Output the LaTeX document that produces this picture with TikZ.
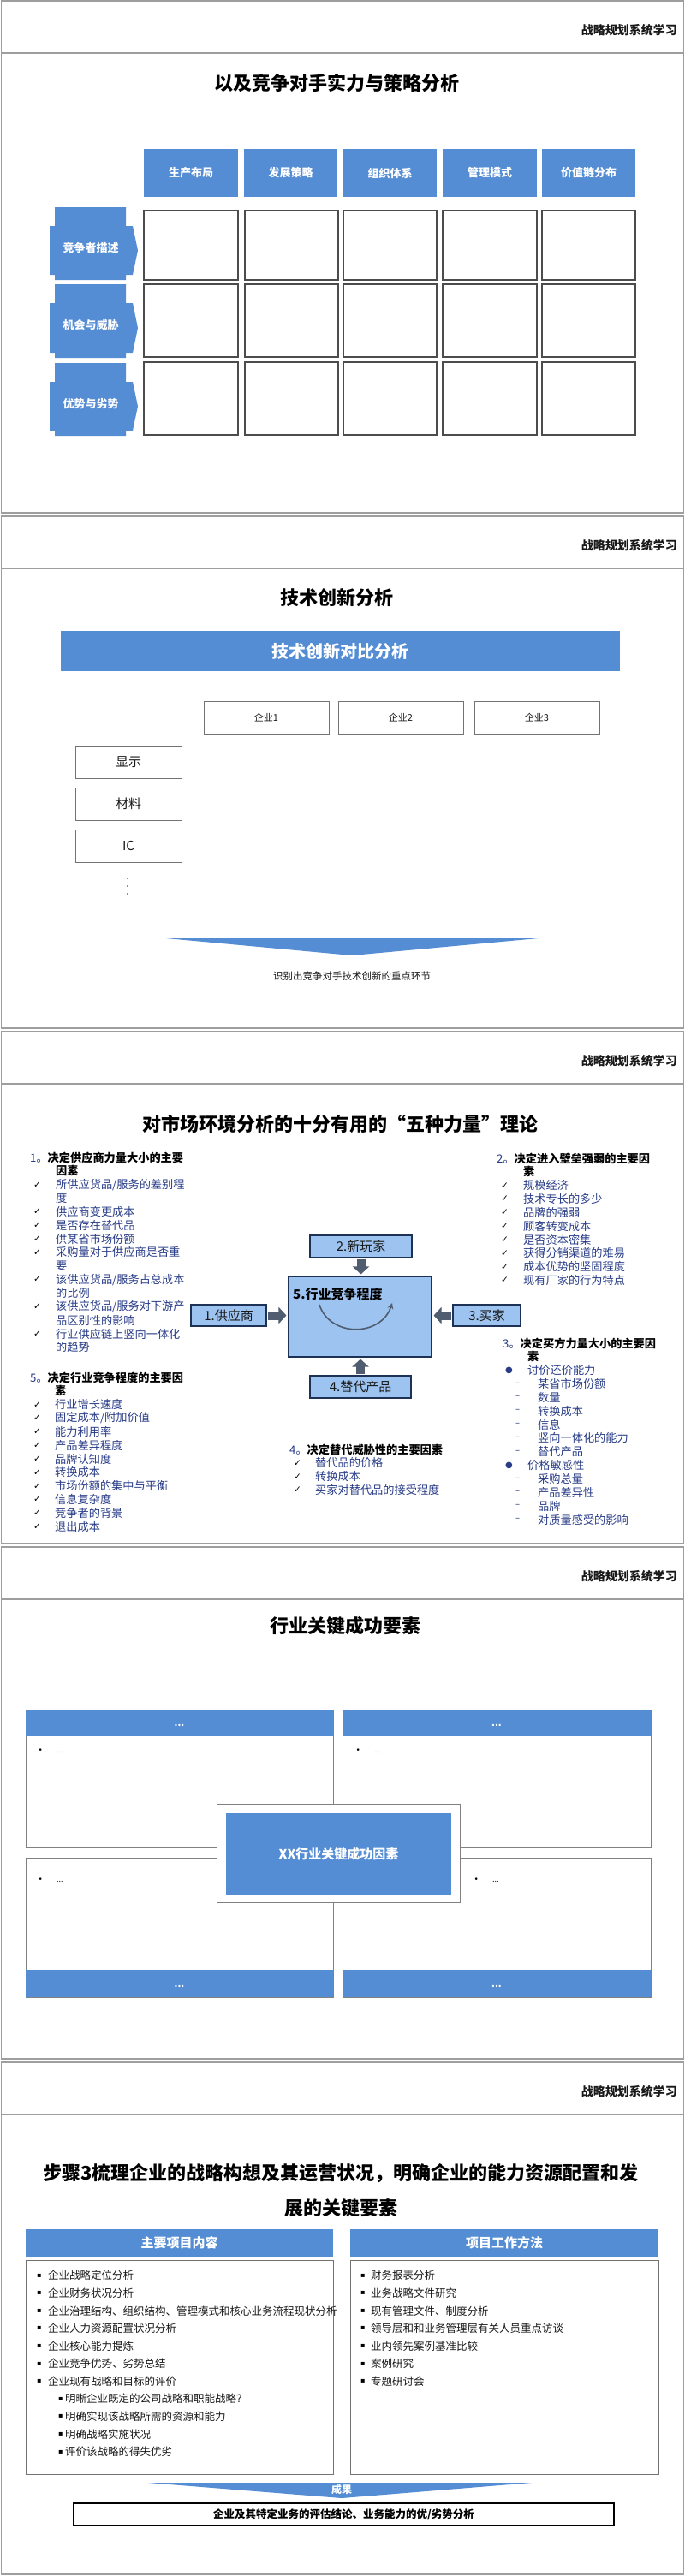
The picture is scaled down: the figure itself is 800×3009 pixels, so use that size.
\documentclass[tikz,border=0pt]{standalone}
\usepackage{fontspec}
\setmainfont{Noto Sans CJK SC}
\newfontfamily\symf{DejaVu Sans}
\usetikzlibrary{arrows.meta}
\definecolor{blueA}{RGB}{84,141,212}
\definecolor{frameg}{RGB}{158,158,158}
\definecolor{lblue}{RGB}{157,195,240}
\definecolor{navyb}{RGB}{30,50,85}
\definecolor{slate}{RGB}{80,92,112}
\definecolor{itemblue}{RGB}{40,60,135}
\definecolor{txt}{RGB}{25,25,25}
\newcommand\fs[1]{\fontsize{#1}{#1}\selectfont}
\newcommand\bx[7]{\node[#2, minimum width={#5pt-#3pt}, minimum height={#6pt-#4pt}] (#1) at ({(#3+#5)/2},{(#4+#6)/2}) {#7};}
\newcommand\slideframe[2]{%
  \draw[frm] (1.5,#2) rectangle (798.5,{#2+598});
  \draw[frm] (1.5,{#2+61}) -- (798.5,{#2+61});
  \node[hdr] (#1) at (791,{#2+34}) {战略规划系统学习};}
\newcommand\rowlab[4]{%
  \fill[blueA] (64,#2) -- (147,#2) -- (147,{#2+22}) -- (155,{#2+22}) -- (161,{(#2+#3+16)/2}) -- (155,{#3-6}) -- (147,{#3-6}) -- (147,#3) -- (64,#3) -- (64,{#3-6}) -- (58,{#3-6}) -- (58,{#2+22}) -- (64,{#2+22}) -- cycle;
  \node[lab] (#1) at (106,{(#2+#3+16)/2-3}) {#4};}
\newcommand\Lt[4]{\node[it] (#1) at ({#2},{#3}) {#4};}
\newcommand\Lh[4]{\node[hd] (#1) at ({#2},{#3}) {#4};}
\newcommand\Lk[5]{\node[mk] (#1m) at ({#2},{#4}) {✓}; \node[it] (#1) at ({#3},{#4}) {#5};}
\newcommand\Lb[6]{\node[bmk] (#1m) at ({#2},{#4}) {#5}; \node[it] (#1) at ({#3},{#4}) {#6};}
\newcommand\Sq[5]{\node[sqm] (#1m) at ({#2},{#4}) {▪}; \node[sqt] (#1) at ({#3},{#4}) {#5};}
\begin{document}
\begin{tikzpicture}[x=1pt,y=-1pt,
 frm/.style={draw=frameg, line width=1.6pt},
 hdr/.style={anchor=east, inner sep=0, font=\fs{14}\bfseries, text=txt},
 ttl/.style={inner sep=0, font=\fs{22}\bfseries, text=black},
 colh/.style={fill=blueA, inner sep=0, text=white, font=\fs{13}\bfseries},
 colh2/.style={fill=blueA, inner sep=0, text=white, font=\fs{15}\bfseries},
 cell/.style={draw=black!70, line width=1.1pt, fill=white, inner sep=0},
 lab/.style={inner sep=0, text=white, font=\fs{13}\bfseries},
 banner/.style={fill=blueA, inner sep=0, text=white, font=\fs{20}\bfseries},
 cobox/.style={draw=black!55, line width=0.9pt, inner sep=0, font=\fs{11}, text=txt},
 rbox/.style={draw=black!55, line width=0.9pt, inner sep=0, font=\fs{15}, text=txt},
 captx/.style={inner sep=0, font=\fs{11.5}, text=txt},
 hd/.style={inner sep=0, anchor=west, font=\fs{13.2}\bfseries, text=black},
 it/.style={inner sep=0, anchor=west, font=\fs{13.2}, text=itemblue},
 mk/.style={inner sep=0, anchor=west, font=\symf\fs{10.5}, text=black},
 bmk/.style={inner sep=0, anchor=west, font=\symf\fs{10}, text=itemblue},
 ff/.style={draw=navyb, line width=1.1pt, fill=lblue, inner sep=0, font=\fs{15}, text=txt},
 ffh/.style={inner sep=0, anchor=west, font=\fs{15}\bfseries, text=black},
 blk/.style={draw=slate, line width=10pt, -{Triangle[width=19pt,length=9pt]}, shorten <=1pt, shorten >=2pt},
 qbox/.style={draw=black!50, line width=1pt, fill=white, inner sep=0},
 qband/.style={fill=blueA, inner sep=0, text=white, font=\fs{11}\bfseries, text height=8pt, text depth=0pt},
 qit/.style={inner sep=0, anchor=base west, font=\fs{9}, text=black},
 cwbox/.style={draw=black!50, line width=1pt, fill=white, inner sep=0},
 cbox/.style={fill=blueA, inner sep=0, text=white, font=\fs{15}\bfseries},
 pbox/.style={draw=black!55, line width=0.9pt, fill=white, inner sep=0},
 sqm/.style={inner sep=0, anchor=west, font=\symf\fs{8}, text=black},
 sqt/.style={inner sep=0, anchor=west, font=\fs{12.5}, text=txt},
 cgtx/.style={inner sep=0, font=\fs{12}\bfseries, text=white},
 resbox/.style={draw=black, line width=1.8pt, fill=white, inner sep=0, font=\fs{12.5}\bfseries, text=black}
]
\useasboundingbox (0,0) rectangle (800,3009);
\fill[white] (0,0) rectangle (800,3009);

% ---------------- slide 1
\slideframe{h1}{1}
\node[ttl] (t1) at (393,97) {以及竞争对手实力与策略分析};
\bx{ch1}{colh}{168}{174}{278}{230}{生产布局}
\bx{ch2}{colh}{285}{174}{394}{230}{发展策略}
\bx{ch3}{colh}{401}{174}{510}{230}{组织体系}
\bx{ch4}{colh}{517}{174}{627}{230}{管理模式}
\bx{ch5}{colh}{633}{174}{742}{230}{价值链分布}
\foreach \r/\ta/\tb in {1/246/327,2/332/417,3/423/508}{
 \foreach \c/\xa/\xb in {1/168/278,2/286/395,3/401/510,4/517/627,5/633/742}{
   \bx{c\r\c}{cell}{\xa}{\ta}{\xb}{\tb}{}
 }}
\rowlab{l1}{242}{327}{竞争者描述}
\rowlab{l2}{332}{418}{机会与威胁}
\rowlab{l3}{424}{509}{优势与劣势}

% ---------------- slide 2
\slideframe{h2}{603}
\node[ttl] (t2) at (393,698) {技术创新分析};
\bx{ban}{banner}{71}{737}{724}{784}{技术创新对比分析}
\bx{co1}{cobox}{238}{819}{384}{857}{企业1}
\bx{co2}{cobox}{395}{819}{541}{857}{企业2}
\bx{co3}{cobox}{554}{819}{700}{857}{企业3}
\bx{rw1}{rbox}{88}{871}{212}{909}{显示}
\bx{rw2}{rbox}{88}{920}{212}{958}{材料}
\bx{rw3}{rbox}{88}{969}{212}{1007}{IC}
\foreach \y in {1026,1035,1044} \fill[txt] (149,\y) circle (0.9);
\fill[blueA] (194,1096) -- (629,1096) -- (411,1116) -- cycle;
\node[captx] (cap2) at (411,1140) {识别出竞争对手技术创新的重点环节};

% ---------------- slide 3
\slideframe{h3}{1205}
\node[ttl] (t3) at (397,1313) {对市场环境分析的十分有用的“五种力量”理论};
% block 1
\Lh{a0}{35}{1352}{\textcolor{itemblue}{\mdseries 1。}决定供应商力量大小的主要}
\Lh{a1}{65}{1352+1*15.85}{因素}
\Lk{a2}{39}{65}{1352+2*15.85}{所供应货品/服务的差别程}
\Lt{a3}{65}{1352+3*15.85}{度}
\Lk{a4}{39}{65}{1352+4*15.85}{供应商变更成本}
\Lk{a5}{39}{65}{1352+5*15.85}{是否存在替代品}
\Lk{a6}{39}{65}{1352+6*15.85}{供某省市场份额}
\Lk{a7}{39}{65}{1352+7*15.85}{采购量对于供应商是否重}
\Lt{a8}{65}{1352+8*15.85}{要}
\Lk{a9}{39}{65}{1352+9*15.85}{该供应货品/服务占总成本}
\Lt{a10}{65}{1352+10*15.85}{的比例}
\Lk{a11}{39}{65}{1352+11*15.85}{该供应货品/服务对下游产}
\Lt{a12}{65}{1352+12*15.85}{品区别性的影响}
\Lk{a13}{39}{65}{1352+13*15.85}{行业供应链上竖向一体化}
\Lt{a14}{65}{1352+14*15.85}{的趋势}
% block 5
\Lh{e0}{35}{1609}{\textcolor{itemblue}{\mdseries 5。}决定行业竞争程度的主要因}
\Lh{e1}{64}{1609+1*15.85}{素}
\Lk{e2}{39}{64}{1609+2*15.85}{行业增长速度}
\Lk{e3}{39}{64}{1609+3*15.85}{固定成本/附加价值}
\Lk{e4}{39}{64}{1609+4*15.85}{能力利用率}
\Lk{e5}{39}{64}{1609+5*15.85}{产品差异程度}
\Lk{e6}{39}{64}{1609+6*15.85}{品牌认知度}
\Lk{e7}{39}{64}{1609+7*15.85}{转换成本}
\Lk{e8}{39}{64}{1609+8*15.85}{市场份额的集中与平衡}
\Lk{e9}{39}{64}{1609+9*15.85}{信息复杂度}
\Lk{e10}{39}{64}{1609+10*15.85}{竞争者的背景}
\Lk{e11}{39}{64}{1609+11*15.85}{退出成本}
% block 2
\Lh{b0}{580}{1353}{\textcolor{itemblue}{\mdseries 2。}决定进入壁垒强弱的主要因}
\Lh{b1}{611}{1353+1*15.85}{素}
\Lk{b2}{585}{611}{1353+2*15.85}{规模经济}
\Lk{b3}{585}{611}{1353+3*15.85}{技术专长的多少}
\Lk{b4}{585}{611}{1353+4*15.85}{品牌的强弱}
\Lk{b5}{585}{611}{1353+5*15.85}{顾客转变成本}
\Lk{b6}{585}{611}{1353+6*15.85}{是否资本密集}
\Lk{b7}{585}{611}{1353+7*15.85}{获得分销渠道的难易}
\Lk{b8}{585}{611}{1353+8*15.85}{成本优势的坚固程度}
\Lk{b9}{585}{611}{1353+9*15.85}{现有厂家的行为特点}
% block 3
\Lh{d0}{587}{1569}{\textcolor{itemblue}{\mdseries 3。}决定买方力量大小的主要因}
\Lh{d1}{616}{1569+1*15.85}{素}
\Lb{d2}{590}{616}{1569+2*15.85}{●}{讨价还价能力}
\Lb{d3}{602}{628}{1569+3*15.85}{–}{某省市场份额}
\Lb{d4}{602}{628}{1569+4*15.85}{–}{数量}
\Lb{d5}{602}{628}{1569+5*15.85}{–}{转换成本}
\Lb{d6}{602}{628}{1569+6*15.85}{–}{信息}
\Lb{d7}{602}{628}{1569+7*15.85}{–}{竖向一体化的能力}
\Lb{d8}{602}{628}{1569+8*15.85}{–}{替代产品}
\Lb{d9}{590}{616}{1569+9*15.85}{●}{价格敏感性}
\Lb{d10}{602}{628}{1569+10*15.85}{–}{采购总量}
\Lb{d11}{602}{628}{1569+11*15.85}{–}{产品差异性}
\Lb{d12}{602}{628}{1569+12*15.85}{–}{品牌}
\Lb{d13}{602}{628}{1569+13*15.85}{–}{对质量感受的影响}
% block 4
\Lh{g0}{338}{1693}{\textcolor{itemblue}{\mdseries 4。}决定替代威胁性的主要因素}
\Lk{g1}{343}{368}{1693+1*15.85}{替代品的价格}
\Lk{g2}{343}{368}{1693+2*15.85}{转换成本}
\Lk{g3}{343}{368}{1693+3*15.85}{买家对替代品的接受程度}
% five forces
\bx{f2}{ff}{362}{1443}{481}{1469}{2.新玩家}
\bx{c5}{ff}{337}{1491}{504}{1585}{}
\bx{f1}{ff}{223}{1524}{311}{1549}{1.供应商}
\bx{f3}{ff}{529}{1524}{608}{1549}{3.买家}
\bx{f4}{ff}{362}{1607}{480}{1633}{4.替代产品}
\node[ffh] (c5t) at (342,1512) {5.行业竞争程度};
\draw[slate, line width=1.6pt, -{Stealth[length=7pt,width=7pt]}] (373,1524) .. controls (385,1562) and (445,1562) .. (458,1522);
\draw[blk] (f2.south) -- (f2.south |- c5.north);
\draw[blk] (f1.east) -- (f1.east -| c5.west);
\draw[blk] (f3.west) -- (f3.west -| c5.east);
\draw[blk] (f4.north) -- (f4.north |- c5.south);

% ---------------- slide 4
\slideframe{h4}{1807}
\node[ttl] (t4) at (403,1899) {行业关键成功要素};
\bx{q1}{qbox}{30}{1997}{389}{2158}{}
\bx{q2}{qbox}{400}{1997}{760}{2158}{}
\bx{q3}{qbox}{30}{2170}{389}{2333}{}
\bx{q4}{qbox}{400}{2170}{760}{2333}{}
\bx{q1b}{qband}{30}{1997}{389}{2028}{...}
\bx{q2b}{qband}{400}{1997}{760}{2028}{...}
\bx{q3b}{qband}{30}{2301}{389}{2333}{...}
\bx{q4b}{qband}{400}{2301}{760}{2333}{...}
\node[qit] (q1i) at (44.5,2047) {{\symf •}\hspace{16pt}...};
\node[qit] (q2i) at (415.5,2047) {{\symf •}\hspace{16pt}...};
\node[qit] (q3i) at (44.5,2198) {{\symf •}\hspace{16pt}...};
\node[qit] (q4i) at (553.5,2198) {{\symf •}\hspace{16pt}...};
\bx{cw}{cwbox}{253}{2107}{537}{2222}{}
\bx{cb}{cbox}{264}{2118}{527}{2213}{XX行业关键成功因素}

% ---------------- slide 5
\slideframe{h5}{2409}
\node[ttl] (t5a) at (398,2539) {步骤3梳理企业的战略构想及其运营状况，明确企业的能力资源配置和发};
\node[ttl] (t5b) at (398,2579) {展的关键要素};
\bx{p1}{colh2}{30}{2604}{389}{2636}{主要项目内容}
\bx{p2}{colh2}{409}{2604}{769}{2636}{项目工作方法}
\bx{pb1}{pbox}{30}{2640}{389}{2890}{}
\bx{pb2}{pbox}{409}{2640}{769}{2890}{}
\Sq{m0}{43}{56}{2658}{企业战略定位分析}
\Sq{m1}{43}{56}{2658+1*20.6}{企业财务状况分析}
\Sq{m2}{43}{56}{2658+2*20.6}{企业治理结构、组织结构、管理模式和核心业务流程现状分析}
\Sq{m3}{43}{56}{2658+3*20.6}{企业人力资源配置状况分析}
\Sq{m4}{43}{56}{2658+4*20.6}{企业核心能力提炼}
\Sq{m5}{43}{56}{2658+5*20.6}{企业竞争优势、劣势总结}
\Sq{m6}{43}{56}{2658+6*20.6}{企业现有战略和目标的评价}
\Sq{m7}{68}{76}{2658+7*20.6}{明晰企业既定的公司战略和职能战略？}
\Sq{m8}{68}{76}{2658+8*20.6}{明确实现该战略所需的资源和能力}
\Sq{m9}{68}{76}{2658+9*20.6}{明确战略实施状况}
\Sq{m10}{68}{76}{2658+10*20.6}{评价该战略的得失优劣}
\Sq{w0}{421}{433}{2658}{财务报表分析}
\Sq{w1}{421}{433}{2658+1*20.6}{业务战略文件研究}
\Sq{w2}{421}{433}{2658+2*20.6}{现有管理文件、制度分析}
\Sq{w3}{421}{433}{2658+3*20.6}{领导层和和业务管理层有关人员重点访谈}
\Sq{w4}{421}{433}{2658+4*20.6}{业内领先案例基准比较}
\Sq{w5}{421}{433}{2658+5*20.6}{案例研究}
\Sq{w6}{421}{433}{2658+6*20.6}{专题研讨会}
\fill[blueA] (173,2900) -- (621,2900) -- (399,2918) -- cycle;
\node[cgtx] (cg) at (399,2908) {成果};
\bx{res}{resbox}{86}{2924}{717}{2950}{企业及其特定业务的评估结论、业务能力的优/劣势分析}
\end{tikzpicture}
\end{document}
